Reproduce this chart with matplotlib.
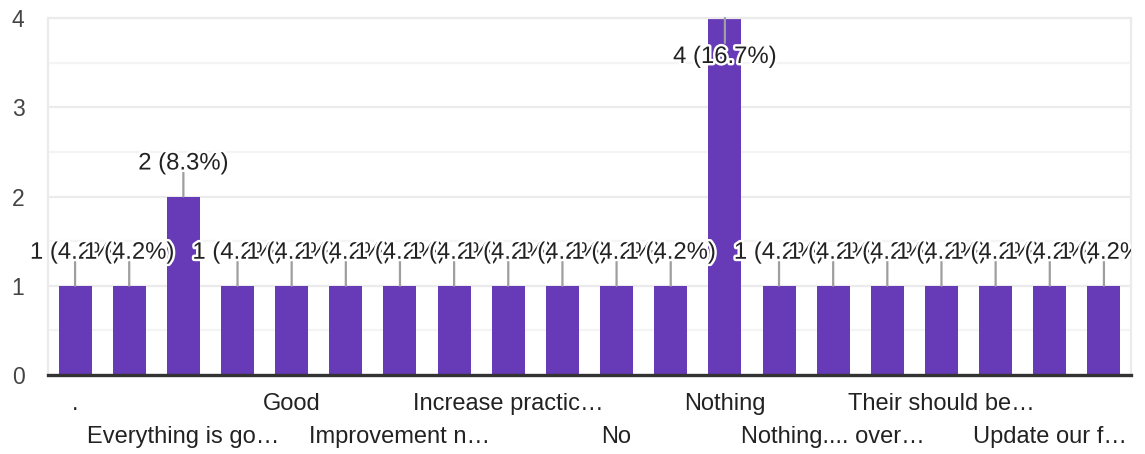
import matplotlib.pyplot as plt
import matplotlib.patheffects as pe
from matplotlib.patches import Rectangle
from matplotlib.ticker import MultipleLocator

plt.rcParams['font.family'] = ['Liberation Sans', 'DejaVu Sans']

# ===================== Data =====================
categories = [".", "", "Everything is go\u2026", "", "Good", "",
              "Improvement n\u2026", "", "Increase practic\u2026", "",
              "No", "", "Nothing", "", "Nothing.... over\u2026", "",
              "Their should be\u2026", "", "Update our f\u2026", ""]
counts = [1, 1, 2, 1, 1, 1, 1, 1, 1, 1, 1, 1, 4, 1, 1, 1, 1, 1, 1, 1]
total = sum(counts)
y_ticks = [0, 1, 2, 3, 4]

bar_color = "#673ab7"
text_color = "#222222"

# ===================== Figure =====================
fig = plt.figure(figsize=(11.45, 4.54), dpi=100)
ax_right = 1131 / 1145
ax = fig.add_axes([48 / 1145, 79 / 454, ax_right - 48 / 1145, (375 - 18) / 454])

x = list(range(len(counts)))
ax.bar(x, counts, width=0.61, color=bar_color, zorder=2)

ax.set_xlim(-0.5, len(counts) - 0.5)
ax.set_ylim(0, max(y_ticks))
ax.set_yticks(y_ticks)
ax.yaxis.set_minor_locator(MultipleLocator(0.5))
ax.tick_params(axis='y', which='both', length=0, pad=17, labelsize=16.5, labelcolor="#444444")
ax.set_xticks([])

ax.grid(axis='y', which='major', color="#ebebeb", linewidth=1.6, zorder=0)
ax.grid(axis='y', which='minor', color="#f4f4f4", linewidth=1.6, zorder=0)
ax.set_axisbelow(True)
for side in ['left', 'right', 'top']:
    ax.spines[side].set_color("#ebebeb")
    ax.spines[side].set_linewidth(1.6)
ax.spines['bottom'].set_visible(False)
ax.axhline(0, color="#333333", linewidth=2.4, zorder=3, clip_on=False)

# labels get cut at the right edge of the plot area, not on the left
clip_rect = Rectangle((0, 0), ax_right, 1, transform=fig.transFigure,
                      fill=False, visible=False)
fig.add_artist(clip_rect)

# ===== Value labels with leader lines =====
halo = [pe.withStroke(linewidth=3.5, foreground="white")]
ymax = max(y_ticks)
for i, v in enumerate(counts):
    label = f"{v} ({v / total * 100:.1f}%)"
    if v >= ymax:
        line_dy, text_dy = -25, -45
    else:
        line_dy, text_dy = 24, 27
    ax.annotate("", xy=(i, v), xytext=(0, line_dy), textcoords='offset pixels',
                arrowprops=dict(arrowstyle='-', color="#9e9e9e", lw=1.6,
                                shrinkA=0, shrinkB=0),
                zorder=4, annotation_clip=False)
    t = ax.annotate(label, xy=(i, v), xytext=(0, text_dy), textcoords='offset pixels',
                    ha='center', va='baseline', fontsize=17.2, color=text_color,
                    path_effects=halo, zorder=5, annotation_clip=False)
    t.set_clip_on(True)
    t.set_clip_path(clip_rect)

# ===== Category labels, two alternating rows =====
row = 0
for i, name in enumerate(categories):
    if not name:
        continue
    dy = -35 if row == 0 else -68
    ax.annotate(name, xy=(i, 0), xytext=(0, dy), textcoords='offset pixels',
                ha='center', va='baseline', fontsize=17, color=text_color,
                annotation_clip=False)
    row = 1 - row

fig.savefig("out.png", dpi=100)
